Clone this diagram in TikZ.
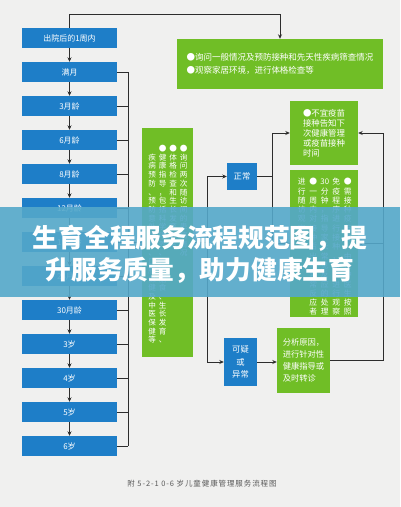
\documentclass[tikz,border=0pt]{standalone}
\usepackage{fontspec}
\setmainfont{Noto Sans CJK SC}
\newfontfamily\capfont[LetterSpace=12]{Noto Sans CJK SC}
\usetikzlibrary{arrows.meta}

\definecolor{pagebg}{RGB}{240,240,239}
\definecolor{boxblue}{RGB}{30,126,200}
\definecolor{boxgreen}{RGB}{112,190,38}
\definecolor{bannerteal}{RGB}{84,168,202}
\definecolor{linegray}{RGB}{45,45,45}

% one character per line, for the upright columns
\def\colchars#1{\ifx#1\relax\else\hbox to 8.5pt{\hss#1\hss}\expandafter\colchars\fi}
\newcommand\stackcol[2][8.7pt]{\vtop{\baselineskip=#1\lineskiplimit=-20pt\colchars#2\relax}}

\begin{document}
\begin{tikzpicture}[x=1pt,y=-1pt,
  conn/.style={draw=linegray, line width=0.7pt},
  >={Stealth[length=4.5pt,width=4pt]},
  agebox/.style={fill=boxblue, text=white, minimum width=95pt, minimum height=20pt, inner sep=0pt, font=\fontsize{8}{10}\selectfont},
  bluebox/.style={fill=boxblue, text=white, inner sep=0pt, align=center, font=\fontsize{8.3}{12.5}\selectfont},
  greenbox/.style={fill=boxgreen, text=white, inner sep=0pt, align=left, font=\fontsize{8.4}{10}\selectfont},
  coltext/.style={text=white, inner sep=0pt, font=\fontsize{7.6}{8.7}\selectfont}]

  \useasboundingbox (0,0) rectangle (400,507);
  \fill[pagebg] (0,0) rectangle (400,507);

  \foreach \name [count=\i] in {出院后的1周内,满月,3月龄,6月龄,8月龄,12月龄,18月龄,24月龄,30月龄,3岁,4岁,5岁,6岁}
    \node[agebox] (age\i) at (69.5,{38+34*(\i-1)}) {\name};
  \foreach \i [evaluate=\i as \j using int(\i+1)] in {1,...,12}
    \draw[conn,->] (age\i) -- (age\j);

  \node[greenbox, minimum width=206pt, minimum height=50pt, font=\fontsize{8.5}{13}\selectfont] (home) at (280,64)
    {●询问一般情况及预防接种和先天性疾病筛查情况\\●观察家居环境，进行体格检查等};
  \draw[conn,->] (age1.north) -- ++(0,-13) -| (home.north);

  \node[greenbox, minimum width=51pt, minimum height=229pt] (visit) at (167.5,242.5) {};
  \node[coltext, anchor=north east] (visittext) at (188,145)
    {\hbox{\stackcol{~疾病预防、预防意外伤害、口腔保健及中医保健等}\hskip2pt
           \stackcol{●健康指导，包括科学喂养、合理膳食、生长发育、}\hskip2pt
           \stackcol{●体格检查和生长发育评估}\hskip2pt
           \stackcol{●询问两次随访间的患病情况}}};

  \coordinate (bus) at (128,0);
  \foreach \i in {2,...,13}
    \draw[conn] (age\i.east) -- (age\i.east -| bus);
  \draw[conn] (age2.east -| bus) -- (age13.east -| bus);
  \draw[conn,->] (visit.west -| bus) -- (visit.west);

  \node[bluebox, minimum width=30pt, minimum height=27pt] (normal) at (242,176.5) {正常};
  \node[bluebox, minimum width=33pt, minimum height=48pt] (odd) at (240.5,362) {可疑\\或\\异常};

  \coordinate (split) at (207,0);
  \draw[conn] (visit.east) -- (visit.east -| split);
  \draw[conn,->] (visit.east -| split) |- (normal.west);
  \draw[conn,->] (visit.east -| split) |- (odd.west);

  \node[greenbox, minimum width=68pt, minimum height=64pt] (defer) at (324,133)
    {●不宜疫苗\\接种告知下\\次健康管理\\或疫苗接种\\时间};
  \node[greenbox, minimum width=68pt, minimum height=147pt] (vaccine) at (324,243.5) {};
  \node[coltext, anchor=north east, font=\fontsize{7.8}{9.3}\selectfont] (vaccinetext) at (352.25,178)
    {\hbox{\stackcol[9.3pt]{进行随访观察}\hskip3pt
           \stackcol[9.3pt]{●一周内对接种后出现异常反应者}\hskip3pt
           \stackcol[9.3pt]{{30}分钟，指导家长常见反应的处理}\hskip3pt
           \stackcol[9.3pt]{免疫程序进行接种，留观进行观察}\hskip3pt
           \stackcol[9.3pt]{●需接种疫苗者，由接种医生按照}}};

  \coordinate (fork) at (272,0);
  \draw[conn] (normal.east) -- (normal.east -| fork);
  \draw[conn,->] (normal.east -| fork) |- (defer.west);
  \draw[conn,->] (normal.east -| fork) |- (vaccine.west);

  \node[greenbox, minimum width=53pt, minimum height=65pt, font=\fontsize{8.3}{12}\selectfont] (analyze) at (303.5,360.5)
    {分析原因，\\进行针对性\\健康指导或\\及时转诊};
  \draw[conn,->] (odd.east) -- (odd.east -| analyze.west);

  \coordinate (back) at (383,0);
  \draw[conn] (analyze.east) -- (analyze.east -| back) -- (defer.east -| back);
  \draw[conn,->] (defer.east -| back) -- (defer.east);
  \draw[conn,->] (vaccine.east -| back) -- (vaccine.east);

  \node[text=black!65, inner sep=0pt, font=\capfont\fontsize{7.5}{9}\selectfont] (caption) at (202,484)
    {附 5-2-1 0-6 岁儿童健康管理服务流程图};

  \fill[bannerteal, opacity=0.9] (0,207) rectangle (400,297);
  \node[text=white, inner sep=0pt, align=center, font=\bfseries\fontsize{25.7}{32}\selectfont] (title) at (200,254)
    {生育全程服务流程规范图，提\\升服务质量，助力健康生育};
\end{tikzpicture}
\end{document}
